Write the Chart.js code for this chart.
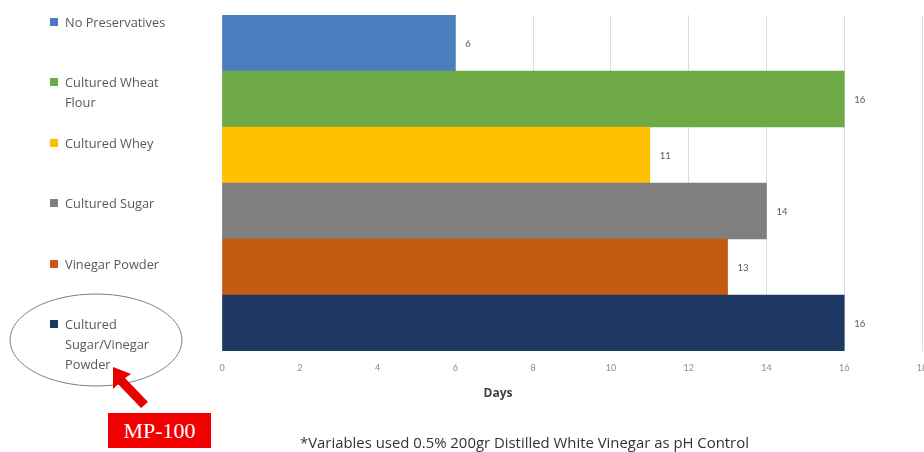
<!DOCTYPE html>
<html>
<head>
<meta charset="utf-8">
<script src="https://cdn.jsdelivr.net/npm/chart.js@4"></script>
<style>
  html, body { margin: 0; padding: 0; background: #fff; }
  #wrap { position: relative; width: 924px; height: 452px; overflow: hidden; font-family: 'Open Sans', Lato, sans-serif; }
  #chart { position: absolute; left: 0; top: 0; }
  .legend-item { position: absolute; left: 50px; color: #595959; font-size: 12.8px; line-height: 20px; }
  .legend-item .box { position: absolute; left: 0; top: 6px; width: 8px; height: 8px; }
  .legend-item .txt { position: absolute; left: 15px; top: 0; white-space: nowrap; }
  #days { position: absolute; left: 470px; top: 384px; width: 56px; text-align: center; font-weight: bold; font-size: 12px; color: #404040; }
  #note { position: absolute; left: 300px; top: 432px; font-size: 14.9px; color: #333; white-space: nowrap; }
  #mp { position: absolute; left: 108px; top: 413px; width: 103px; height: 35px; background: #f00000; color: #fff;
        font-family: 'Liberation Serif', 'DejaVu Serif', serif; font-size: 22px; line-height: 35px; text-align: center; }
  #marks { position: absolute; left: 0; top: 0; }
</style>
</head>
<body>
<div id="wrap">
  <canvas id="chart" width="960" height="452"></canvas>
  <svg id="marks" width="924" height="452">
    <ellipse cx="96" cy="340" rx="86" ry="46" fill="none" stroke="#7f7f7f" stroke-width="1"/>
    <polygon points="113,367 131,374 125,378 148,402 141,408 118,384 113,389" fill="#e60000"/>
  </svg>
  <div id="legend"></div>
  <div id="days">Days</div>
  <div id="mp">MP-100</div>
  <div id="note">*Variables used 0.5% 200gr Distilled White Vinegar as pH Control</div>
</div>
<script>
const categories = [
  ['No Preservatives'],
  ['Cultured Wheat', 'Flour'],
  ['Cultured Whey'],
  ['Cultured Sugar'],
  ['Vinegar Powder'],
  ['Cultured', 'Sugar/Vinegar', 'Powder'],
];
const days = [6, 16, 11, 14, 13, 16];
const barColors = ['#4a7ebf', '#6eab46', '#ffc000', '#7f7f7f', '#c55a11', '#1f3864'];
const xTicks = [0, 2, 4, 6, 8, 10, 12, 14, 16, 18];

// legend on the left, built from the same arrays
const legend = document.getElementById('legend');
categories.forEach((lines, i) => {
  const item = document.createElement('div');
  item.className = 'legend-item';
  item.style.top = (12 + 60.4 * i) + 'px';
  item.innerHTML = '<span class="box" style="background:' + barColors[i] + '"></span>'
    + '<span class="txt">' + lines.join('<br>') + '</span>';
  legend.appendChild(item);
});

const valueLabels = {
  id: 'valueLabels',
  afterDatasetsDraw(chart) {
    const ctx = chart.ctx;
    const meta = chart.getDatasetMeta(0);
    ctx.save();
    ctx.font = '9.5px Lato, sans-serif';
    ctx.fillStyle = '#595959';
    ctx.textAlign = 'left';
    ctx.textBaseline = 'middle';
    meta.data.forEach((bar, i) => {
      ctx.fillText(String(days[i]), bar.x + 10, bar.y + 1);
    });
    ctx.restore();
  },
};

// canvas is wider than the page so the last tick ("18") is cut at the edge
new Chart(document.getElementById('chart'), {
  type: 'bar',
  data: {
    labels: categories.map((l) => l.join(' ')),
    datasets: [{
      data: days,
      backgroundColor: barColors,
      borderWidth: 0,
      barPercentage: 1,
      categoryPercentage: 1,
    }],
  },
  options: {
    indexAxis: 'y',
    responsive: false,
    animation: false,
    events: [],
    layout: { padding: { left: 222, right: 38, top: 15, bottom: 0 } },
    plugins: {
      legend: { display: false },
      tooltip: { enabled: false },
    },
    scales: {
      y: {
        display: false,
        offset: true,
      },
      x: {
        min: 0,
        max: 18,
        afterBuildTicks(scale) {
          scale.ticks = xTicks.map((v) => ({ value: v }));
        },
        afterFit(scale) {
          scale.height = 101;
        },
        border: { display: false },
        grid: { color: '#dcdcdc', drawTicks: false },
        ticks: {
          padding: 12,
          color: '#8c8c8c',
          font: { family: 'Lato, sans-serif', size: 9 },
        },
      },
    },
  },
  plugins: [valueLabels],
});
</script>
</body>
</html>
